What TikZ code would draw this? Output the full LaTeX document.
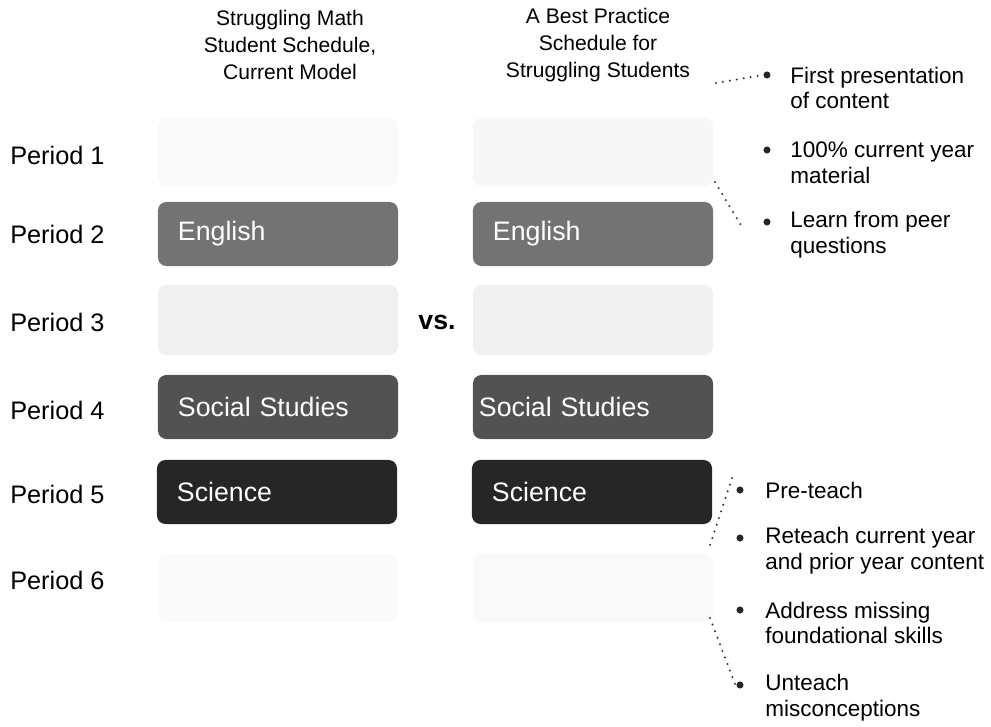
\documentclass[tikz,border=0pt]{standalone}
\usepackage{fontspec}
\setmainfont{Liberation Sans}
\usetikzlibrary{positioning}

\begin{document}
\begin{tikzpicture}[x=0.025cm,y=-0.025cm,
    head node/.style={align=center,font=\fontsize{15}{19.2}\selectfont},
    period node/.style={anchor=west,inner sep=0pt,font=\fontsize{18}{20}\selectfont},
    slot node/.style={rounded corners=6pt,minimum width=6cm,minimum height=1.6cm,
                      text width=5cm,inner xsep=0.5cm,align=left,text=white,
                      font=\fontsize{19}{22}\selectfont},
    point node/.style={anchor=west,align=left,inner sep=0pt,font=\fontsize{16}{18.4}\selectfont},
    dot node/.style={circle,fill=black!85,inner sep=0pt,minimum size=5pt},
    dots/.style={line width=1.6pt,line cap=round,dash pattern=on 0pt off 5pt,black!80}]

  \useasboundingbox (0,0) rectangle (991,727);

  % column heads
  \node[head node] (headL) at (290,45) {Struggling Math\\Student Schedule,\\Current Model};
  \node[head node] (headR) at (598,45) {A Best Practice\\Schedule for\\Struggling Students};

  % period labels
  \node[period node] (p1) at (10,155) {Period 1};
  \node[period node] (p2) at (10,234) {Period 2};
  \node[period node] (p3) at (10,322) {Period 3};
  \node[period node] (p4) at (10,410) {Period 4};
  \node[period node] (p5) at (10,494) {Period 5};
  \node[period node] (p6) at (10,580) {Period 6};

  % current model
  \node[slot node,fill=gray!5,minimum height=1.7cm]  (l1) at (278,152) {};
  \node[slot node,fill=black!55]                      (l2) at (278,234) {English};
  \node[slot node,fill=gray!12,minimum height=1.75cm] (l3) at (278,320) {};
  \node[slot node,fill=black!68]                      (l4) at (278,407) {Social Studies};
  \node[slot node,fill=black!85]                      (l5) at (277,492) {Science};
  \node[slot node,fill=gray!4,minimum height=1.7cm]  (l6) at (278,588) {};

  % best practice
  \node[slot node,fill=gray!6,minimum height=1.7cm]  (r1) at (593,152) {};
  \node[slot node,fill=black!55]                      (r2) at (593,234) {English};
  \node[slot node,fill=gray!12,minimum height=1.75cm] (r3) at (593,320) {};
  \node[slot node,fill=black!68,inner xsep=0.15cm,text width=5.7cm] (r4) at (593,407) {Social Studies};
  \node[slot node,fill=black!85]                      (r5) at (592,492) {Science};
  \node[slot node,fill=gray!5,minimum height=1.7cm]  (r6) at (593,588) {};

  \node[font=\bfseries\fontsize{19}{22}\selectfont] (vs) at (437,322) {vs.};

  % upper notes
  \node[dot node] (d1) at (767,75) {};
  \node[point node] (n1) at (790,88) {First presentation\\of content};
  \node[dot node] (d2) at (767,150) {};
  \node[point node] (n2) at (790,163) {100\% current year\\material};
  \node[dot node] (d3) at (767,222) {};
  \node[point node] (n3) at (790,235) {Learn from peer\\questions};

  % lower notes
  \node[dot node] (d4) at (740,490) {};
  \node[point node] (n4) at (765,490) {Pre-teach};
  \node[dot node] (d5) at (740,538) {};
  \node[point node] (n5) at (765,551) {Reteach current year\\and prior year content};
  \node[dot node] (d6) at (740,610) {};
  \node[point node] (n6) at (765,623) {Address missing\\foundational skills};
  \node[dot node] (d7) at (740,685) {};
  \node[point node] (n7) at (765,698) {Unteach\\misconceptions};

  \coordinate (u1) at (716,83);
  \coordinate (u2) at (715,182);
  \coordinate (u3) at (742,227);
  \coordinate (w1) at (732,478);
  \coordinate (w2) at (710,545);
  \coordinate (w3) at (710,618);
  \coordinate (w4) at (735,684);

  \draw[dots] (u1) -- (d1.west);
  \draw[dots] (u2) -- (u3);
  \draw[dots] (w1) -- (w2);
  \draw[dots] (w3) -- (w4);
\end{tikzpicture}
\end{document}
